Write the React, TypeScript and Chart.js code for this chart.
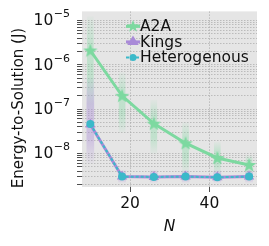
import React, { useEffect, useRef } from "react";
import { Chart, registerables } from "chart.js";
Chart.register(...registerables);

const nValues = [10, 18, 26, 34, 42, 50];
const a2aValues = [2.1e-6, 2.0e-7, 4.7e-8, 1.7e-8, 7.9e-9, 5.5e-9];
const kingsValues = [4.5e-8, 3.0e-9, 2.95e-9, 3.0e-9, 2.9e-9, 3.0e-9];
const heteroValues = [4.6e-8, 3.0e-9, 2.95e-9, 3.0e-9, 2.9e-9, 3.0e-9];
const a2aSpreadLow = [1.0e-7, 3.0e-8, 1.0e-8, 3.8e-9, 3.5e-9, 3.2e-9];
const a2aSpreadHigh = [1.2e-5, 6.7e-7, 1.6e-7, 5.0e-8, 1.8e-8, 9.0e-9];
const kingsSpreadLow = [6.0e-9, 2.2e-9, 2.2e-9, 2.2e-9, 2.2e-9, 2.2e-9];
const kingsSpreadHigh = [5.0e-7, 4.2e-9, 4.2e-9, 4.2e-9, 4.2e-9, 4.2e-9];
const xTickValues = [20, 40];
const yMajorExponents = [-9, -8, -7, -6, -5];
const legendLabels = ["A2A", "Kings", "Heterogenous"];
const xTitle = "N";
const yTitle = "Energy-to-Solution (J)";

const GREEN = "#7dd9a0";
const PURPLE = "#a98ad8";
const TEAL = "#3bb9c9";
const FONT = "'DejaVu Sans'";
const Y_MIN = 1.75e-9;
const Y_MAX = 1.6e-5;

function drawStar(ctx: CanvasRenderingContext2D, cx: number, cy: number, ro: number, ri: number, color: string) {
  ctx.beginPath();
  for (let i = 0; i < 10; i++) {
    const r = i % 2 === 0 ? ro : ri;
    const a = -Math.PI / 2 + (i * Math.PI) / 5;
    const px = cx + r * Math.cos(a);
    const py = cy + r * Math.sin(a);
    if (i === 0) ctx.moveTo(px, py);
    else ctx.lineTo(px, py);
  }
  ctx.closePath();
  ctx.fillStyle = color;
  ctx.fill();
}

function makeStarImage(color: string) {
  const c = document.createElement("canvas");
  c.width = 18;
  c.height = 18;
  const ctx = c.getContext("2d")!;
  drawStar(ctx, 9, 9.5, 7.5, 3.1, color);
  return c;
}

function drawTriangle(ctx: CanvasRenderingContext2D, cx: number, cy: number, r: number, color: string) {
  ctx.beginPath();
  ctx.moveTo(cx, cy - r);
  ctx.lineTo(cx + r * 0.95, cy + r * 0.6);
  ctx.lineTo(cx - r * 0.95, cy + r * 0.6);
  ctx.closePath();
  ctx.fillStyle = color;
  ctx.fill();
}

function bandFill(rgb: string, alpha: number) {
  return (c: any) => {
    if (c.type !== "data" || !c.raw) return `rgba(${rgb},${alpha})`;
    const ys = c.chart.scales.y;
    const [lo, hi] = c.raw.y;
    const top = ys.getPixelForValue(hi);
    const bot = ys.getPixelForValue(lo);
    if (!isFinite(top) || !isFinite(bot) || top === bot) return `rgba(${rgb},${alpha})`;
    const g = c.chart.ctx.createLinearGradient(0, top, 0, bot);
    g.addColorStop(0, `rgba(${rgb},0.05)`);
    g.addColorStop(0.3, `rgba(${rgb},${alpha})`);
    g.addColorStop(0.7, `rgba(${rgb},${alpha})`);
    g.addColorStop(1, `rgba(${rgb},0.05)`);
    return g;
  };
}

export default function App() {
  const ref = useRef<HTMLCanvasElement>(null);
  useEffect(() => {
    document.body.style.margin = "0";
    const star = makeStarImage(GREEN);
    const isMajor = (v: number) => {
      const e = Math.floor(Math.log10(v) + 1e-9);
      return Math.abs(v / Math.pow(10, e) - 1) < 1e-6;
    };
    const bgPlugin = {
      id: "bg",
      beforeDraw(chart: any) {
        const { ctx, chartArea: a } = chart;
        ctx.save();
        ctx.fillStyle = "#e5e5e5";
        ctx.fillRect(a.left, a.top, a.right - a.left, a.bottom - a.top);
        ctx.restore();
      },
    };
    const yLabelPlugin = {
      id: "yLabels",
      afterDraw(chart: any) {
        const { ctx } = chart;
        const ys = chart.scales.y;
        const right = ys.right - 12;
        ctx.save();
        ctx.fillStyle = "#111";
        ctx.textBaseline = "middle";
        yMajorExponents.forEach((e) => {
          const v = Math.pow(10, e);
          if (v < Y_MIN || v > Y_MAX) return;
          const y = ys.getPixelForValue(v);
          const supText = "\u2212" + String(Math.abs(e));
          ctx.font = `11px ${FONT}`;
          const sw = ctx.measureText(supText).width;
          ctx.textAlign = "right";
          ctx.fillText(supText, right, y - 6);
          ctx.font = `15.5px ${FONT}`;
          ctx.fillText("10", right - sw - 0.5, y + 1);
        });
        ctx.save();
        ctx.translate(19, 108);
        ctx.rotate(-Math.PI / 2);
        ctx.textAlign = "center";
        ctx.font = `15px ${FONT}`;
        ctx.fillText(yTitle, 0, 0);
        ctx.restore();
        ctx.restore();
      },
    };
    const legendPlugin = {
      id: "customLegend",
      afterDraw(chart: any) {
        const { ctx, chartArea: a } = chart;
        const x0 = a.left + 44;
        const y0 = a.top + 15;
        const dy = 15.5;
        ctx.save();
        ctx.font = `15.5px ${FONT}`;
        ctx.textBaseline = "middle";
        ctx.fillStyle = "#111";
        legendLabels.forEach((lab, i) => {
          const y = y0 + i * dy;
          const color = [GREEN, PURPLE, TEAL][i];
          ctx.strokeStyle = color;
          ctx.lineWidth = i === 2 ? 2 : 3;
          ctx.setLineDash(i === 2 ? [3, 2] : []);
          ctx.beginPath();
          ctx.moveTo(x0, y);
          ctx.lineTo(x0 + 14, y);
          ctx.stroke();
          ctx.setLineDash([]);
          if (i === 0) drawStar(ctx, x0 + 7, y, 6.5, 2.7, GREEN);
          if (i === 1) drawTriangle(ctx, x0 + 7, y - 0.5, 6, PURPLE);
          if (i === 2) {
            ctx.beginPath();
            ctx.arc(x0 + 7, y, 3.5, 0, Math.PI * 2);
            ctx.fillStyle = TEAL;
            ctx.fill();
          }
          ctx.fillStyle = "#111";
          ctx.fillText(lab, x0 + 14, y + 1);
        });
        ctx.restore();
      },
    };

    const yTicks: number[] = [];
    yMajorExponents.forEach((e) => {
      for (let m = 1; m <= 9; m++) yTicks.push(m * Math.pow(10, e));
    });

    const chart = new Chart(ref.current!, {
      type: "line",
      data: {
        datasets: [
          {
            type: "bar",
            data: nValues.map((x, i) => ({ x, y: [a2aSpreadLow[i], a2aSpreadHigh[i]] })) as any,
            backgroundColor: bandFill("125,217,160", 0.35),
            barThickness: 6,
            grouped: false,
            order: 10,
          } as any,
          {
            type: "bar",
            data: nValues.map((x, i) => ({ x, y: [kingsSpreadLow[i], kingsSpreadHigh[i]] })) as any,
            backgroundColor: bandFill("169,138,216", 0.4),
            barThickness: 7,
            grouped: false,
            order: 9,
          } as any,
          {
            data: nValues.map((x, i) => ({ x, y: a2aValues[i] })),
            borderColor: GREEN,
            borderWidth: 3,
            pointStyle: star as any,
            pointRadius: 7,
            order: 3,
          },
          {
            data: nValues.map((x, i) => ({ x, y: kingsValues[i] })),
            borderColor: PURPLE,
            backgroundColor: PURPLE,
            borderWidth: 3,
            pointStyle: "triangle",
            pointRadius: 6,
            pointBorderWidth: 0,
            order: 2,
          },
          {
            data: nValues.map((x, i) => ({ x, y: heteroValues[i] })),
            borderColor: TEAL,
            backgroundColor: TEAL,
            borderWidth: 2,
            borderDash: [3, 2],
            pointStyle: "circle",
            pointRadius: 4,
            pointBorderWidth: 0,
            order: 1,
          },
        ],
      },
      options: {
        animation: false,
        responsive: false,
        layout: { padding: { top: 10, right: 12, left: 0, bottom: 10 } },
        plugins: { legend: { display: false }, tooltip: { enabled: false } },
        scales: {
          x: {
            type: "linear",
            min: 7.9,
            max: 52,
            offset: false,
            afterBuildTicks: (s: any) => {
              s.ticks = xTickValues.map((v) => ({ value: v }));
            },
            afterFit: (s: any) => {
              s.height = 49;
            },
            ticks: { font: { family: FONT, size: 15.5 }, color: "#111", padding: 3 },
            grid: { offset: false, color: "rgba(170,170,170,0.9)", lineWidth: 0.8, tickLength: 5, tickColor: "#222" },
            border: { display: false, dash: [1.5, 1.5] },
            title: { display: true, text: xTitle, font: { family: FONT, size: 15.5, style: "italic" }, color: "#111", padding: 0 },
          },
          y: {
            type: "logarithmic",
            min: Y_MIN,
            max: Y_MAX,
            afterBuildTicks: (s: any) => {
              s.ticks = yTicks.filter((v) => v >= Y_MIN && v <= Y_MAX).map((v) => ({ value: v, major: isMajor(v) }));
            },
            afterFit: (s: any) => {
              s.width = 82;
            },
            ticks: {
              autoSkip: false,
              font: { family: FONT, size: 14 },
              color: "#111",
              padding: 3,
              callback: () => "",
            },
            grid: {
              color: "rgba(170,170,170,0.9)",
              lineWidth: 0.8,
              tickLength: 5,
              tickColor: "#222",
            },
            border: { display: false, dash: [1.5, 1.5] },
            title: { display: false },
          },
        },
      },
      plugins: [bgPlugin, yLabelPlugin, legendPlugin],
    } as any);
    return () => chart.destroy();
  }, []);
  return (
    <div style={{ width: 269, height: 246 }}>
      <canvas ref={ref} width={269} height={246} />
    </div>
  );
}
